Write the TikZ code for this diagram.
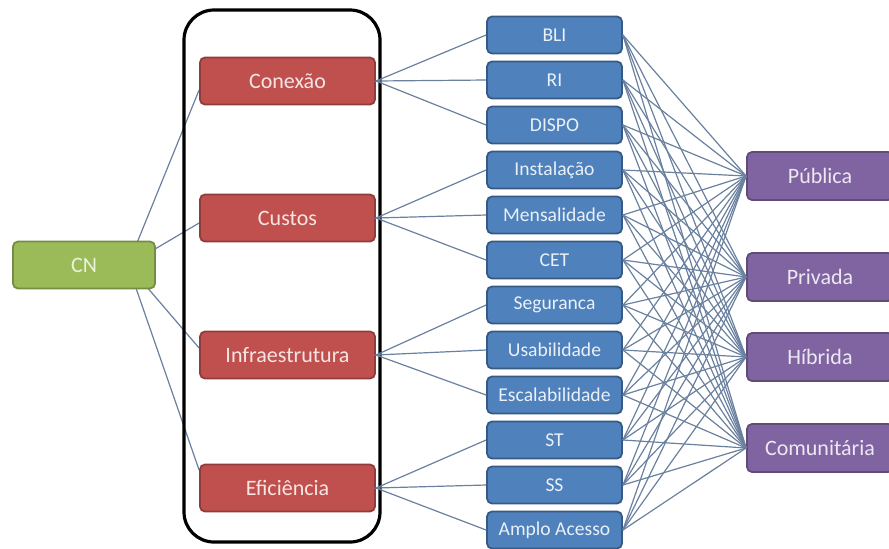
\documentclass[tikz,border=0pt]{standalone}
\usepackage{fontspec}
\setmainfont{Carlito}
\usetikzlibrary{positioning,backgrounds}
\definecolor{cngreen}{RGB}{155,187,89}
\definecolor{cnred}{RGB}{192,80,77}
\definecolor{cnblue}{RGB}{79,129,189}
\definecolor{cnpurple}{RGB}{128,100,162}
\definecolor{cnline}{RGB}{105,128,158}

\begin{document}
\begin{tikzpicture}[x=0.5pt,y=-0.5pt,font=\fontsize{11}{13}\selectfont]
            \tikzstyle{box}=[rectangle,rounded corners=2.5pt,draw,line width=0.9pt,inner sep=0]
            \tikzstyle{root node}=[box,fill=cngreen,draw=cngreen!75!black,text=cngreen!20!white,minimum width=71pt,minimum height=23.5pt]
            \tikzstyle{group node}=[box,fill=cnred,draw=cnred!75!black,text=cnred!15!white,minimum width=87.5pt,minimum height=23.5pt]
            \tikzstyle{item node}=[box,fill=cnblue,draw=cnblue!70!black,text=cnblue!12!white,minimum width=67.5pt,minimum height=18.5pt,font=\fontsize{9.8}{12}\selectfont]
            \tikzstyle{type node}=[box,fill=cnpurple,draw=cnpurple!75!black,text=cnpurple!15!white,minimum width=73pt,minimum height=24pt]
            \tikzstyle{link}=[cnline,line width=0.6pt]
            \useasboundingbox (0,0) rectangle (889,548);
            % frame round the groups
            \draw[line width=1.6pt,rounded corners=15pt] (184,10) rectangle (380,542);
            \node(cn)[root node] at (84,265) {CN};
            \coordinate(hub) at (128,265);
            \node(g1)[group node] at (287.5,81) {Conexão};
            \node(g2)[group node] at (287.5,218) {Custos};
            \node(g3)[group node] at (287.5,355) {Infraestrutura};
            \node(g4)[group node] at (287.5,488) {Eficiência};
            \node(i1)[item node] at (554.5,35) {BLI};
            \node(i2)[item node] at (554.5,80) {RI};
            \node(i3)[item node] at (554.5,125) {DISPO};
            \node(i4)[item node] at (554.5,170) {Instalação};
            \node(i5)[item node] at (554.5,215) {Mensalidade};
            \node(i6)[item node] at (554.5,260) {CET};
            \node(i7)[item node] at (554.5,305) {Seguranca};
            \node(i8)[item node] at (554.5,350) {Usabilidade};
            \node(i9)[item node] at (554.5,395) {Escalabilidade};
            \node(i10)[item node] at (554.5,440) {ST};
            \node(i11)[item node] at (554.5,485) {SS};
            \node(i12)[item node] at (554.5,530) {Amplo Acesso};
            \node(t1)[type node] at (820,176) {Pública};
            \node(t2)[type node] at (820,277) {Privada};
            \node(t3)[type node] at (820,357) {Híbrida};
            \node(t4)[type node] at (820,448) {Comunitária};
            % connectors
            \begin{pgfonlayer}{background}
              \draw[link] (hub) -- ([yshift=-4.5pt]g1.west);
              \draw[link] (hub) -- ([yshift=-2.5pt]g2.west);
              \draw[link] (hub) -- ([yshift=3.5pt]g3.west);
              \draw[link] (hub) -- ([yshift=9pt]g4.west);
            \end{pgfonlayer}
            \foreach \g/\a/\b/\c in {1/1/2/3,2/4/5/6,3/7/8/9,4/10/11/12}
              \draw[link] (i\a.west) -- (g\g.east) -- (i\b.west) (g\g.east) -- (i\c.west);
            \foreach \i in {1,...,12}
              \foreach \t in {1,...,4}
                \draw[link] (i\i.east) -- (t\t.west);
          \end{tikzpicture}
\end{document}
